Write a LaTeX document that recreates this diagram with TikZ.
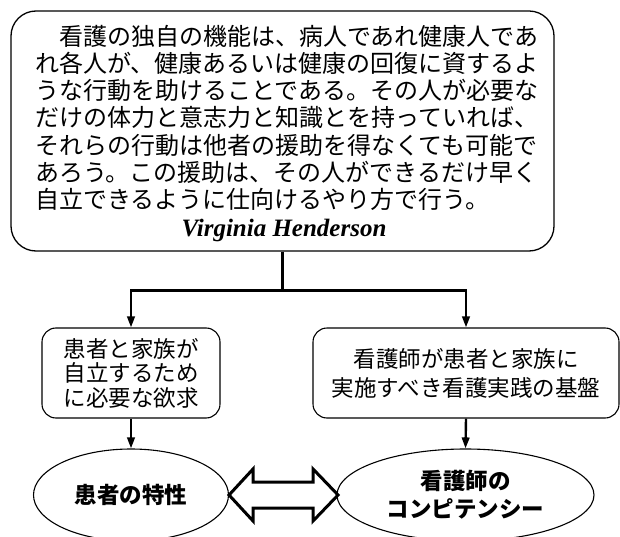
\documentclass[tikz,border=0pt]{standalone}
\usepackage{fontspec}
\setmainfont{Liberation Serif}
\newfontfamily\jp{Noto Sans CJK JP}
\usetikzlibrary{arrows.meta,shapes.geometric}
\begin{document}
\begin{tikzpicture}[x=1pt,y=-1pt,
  conn/.style={line width=2.4pt},
  arr/.style={conn,-{Triangle[length=11pt,width=7.5pt]}},
  topbox/.style={draw,line width=1.3pt,rounded corners=25pt},
  sbox/.style={draw,line width=1.1pt,rounded corners=14pt,minimum height=90pt,align=center},
  ell/.style={draw,ellipse,line width=1.1pt,inner sep=0pt,minimum height=92pt,align=center,
    font=\jp\bfseries\fontsize{22.5}{28}\selectfont},
  qline/.style={anchor=base west,inner sep=0pt,font=\jp\fontsize{24}{28}\selectfont},
  dbl/.style={line width=3pt,fill=white,line join=miter,miter limit=10}]
\useasboundingbox (0,0) rectangle (620,537);
% top quotation box
\node[topbox, minimum width=543pt, minimum height=240pt] (top) at (282.5,131) {};
\node[qline] (q1) at (35,45.1) {　看護の独自の機能は、病人であれ健康人であ};
\node[qline] (q2) at (35,72.4) {れ各人が、健康あるいは健康の回復に資するよ};
\node[qline] (q3) at (35,99.7) {うな行動を助けることである。その人が必要な};
\node[qline] (q4) at (35,127.0) {だけの体力と意志力と知識とを持っていれば、};
\node[qline] (q5) at (35,154.3) {それらの行動は他者の援助を得なくても可能で};
\node[qline] (q6) at (35,181.6) {あろう。この援助は、その人ができるだけ早く};
\node[qline] (q7) at (35,208.9) {自立できるように仕向けるやり方で行う。};
\node[anchor=base,inner sep=0pt,font=\bfseries\itshape\fontsize{25}{28}\selectfont] (auth) at (284,236) {Virginia Henderson};
% middle boxes
\node[sbox, minimum width=178pt, font=\jp\fontsize{22.5}{24.5}\selectfont] (lbox) at (131,373) {患者と家族が\\自立するため\\に必要な欲求};
\node[sbox, minimum width=306pt, font=\jp\fontsize{22.5}{29}\selectfont] (rbox) at (466,373) {看護師が患者と家族に\\実施すべき看護実践の基盤};
% ellipses
\node[ell, minimum width=195pt] (lell) at (131,495) {患者の特性};
\node[ell, minimum width=257pt] (rell) at (465.5,495) {看護師の\\コンピテンシー};
% connectors
\draw[conn] (top.south) -- ++(0,39) coordinate (split);
\draw[arr] (split) -| (lbox.north);
\draw[arr] (split) -| (rbox.north);
\draw[arr] (lbox.south) -- (lell.north);
\draw[arr] (rbox.south) -- (rell.north);
% double arrow
\draw[dbl] (lell.east) -- ++(24,-26) -- ++(0,13) -- ++(60,0) -- ++(0,-13)
  -- ++(25,26) -- ++(-25,26) -- ++(0,-13) -- ++(-60,0) -- ++(0,13) -- cycle;
\end{tikzpicture}
\end{document}
